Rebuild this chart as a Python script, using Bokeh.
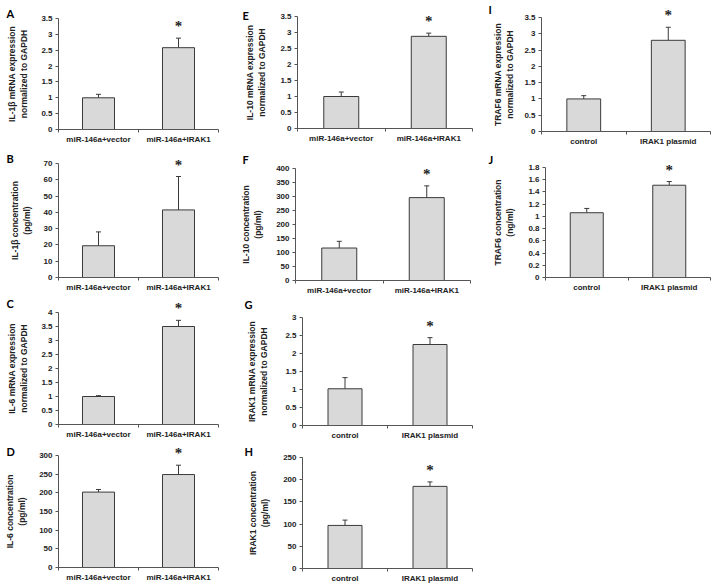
from bokeh.plotting import figure
from bokeh.layouts import row, column
from bokeh.models import (ColumnDataSource, FixedTicker, NumeralTickFormatter,
                          Whisker, Label, Range1d)
from bokeh.embed import file_html
from bokeh.resources import INLINE

# ---------------- data ----------------
mir_groups = ["miR-146a+vector", "miR-146a+IRAK1"]
plasmid_groups = ["control", "IRAK1 plasmid"]

il1b_mrna_mean = [1.0, 2.58]
il1b_mrna_err = [0.11, 0.30]
il1b_conc_mean = [19.5, 41.5]
il1b_conc_err = [8.5, 20.5]
il6_mrna_mean = [1.0, 3.5]
il6_mrna_err = [0.03, 0.22]
il6_conc_mean = [202, 249]
il6_conc_err = [7, 25]
il10_mrna_mean = [1.0, 2.88]
il10_mrna_err = [0.14, 0.10]
il10_conc_mean = [116, 296]
il10_conc_err = [24, 42]
irak1_mrna_mean = [1.02, 2.25]
irak1_mrna_err = [0.31, 0.19]
irak1_conc_mean = [97, 185]
irak1_conc_err = [12, 10]
traf6_mrna_mean = [1.0, 2.8]
traf6_mrna_err = [0.1, 0.4]
traf6_conc_mean = [1.06, 1.51]
traf6_conc_err = [0.07, 0.06]

ticks_35 = [0, 0.5, 1, 1.5, 2, 2.5, 3, 3.5]
ticks_70 = [0, 10, 20, 30, 40, 50, 60, 70]
ticks_4 = [0, 0.5, 1, 1.5, 2, 2.5, 3, 3.5, 4]
ticks_300 = [0, 50, 100, 150, 200, 250, 300]
ticks_400 = [0, 50, 100, 150, 200, 250, 300, 350, 400]
ticks_3 = [0, 0.5, 1, 1.5, 2, 2.5, 3]
ticks_250 = [0, 50, 100, 150, 200, 250]
ticks_18 = [0, 0.2, 0.4, 0.6, 0.8, 1, 1.2, 1.4, 1.6, 1.8]

FONT = "Liberation Sans"
TXT = "#222222"
AX = "#555555"
NCAT = 2


def panel(letter, ylabel, cats, means, errs, yticks, w, h, ax, xr, yt, yb,
          lx, ly, standoff):
    """w,h: figure size; ax/xr: pixel columns of x=0 / x=2;
    yt/yb: pixel rows of top tick / y=0; (lx, ly): letter top-left."""
    ymax = yticks[-1]
    ux = NCAT / (xr - ax)
    uy = ymax / (yb - yt)
    p = figure(width=w, height=h, output_backend="svg", toolbar_location=None,
               x_range=Range1d(-ax * ux, NCAT + (w - xr) * ux),
               y_range=Range1d(-(h - yb) * uy, ymax + yt * uy),
               min_border=0)
    p.min_border_left = p.min_border_right = 0
    p.min_border_top = p.min_border_bottom = 0
    p.outline_line_color = None
    p.grid.visible = False
    p.background_fill_color = "white"
    p.border_fill_color = "white"

    xs = [0.5, 1.5]
    src = ColumnDataSource(dict(x=xs, top=means,
                                up=[m + e for m, e in zip(means, errs)]))
    p.vbar(x="x", top="top", width=0.4, source=src, fill_color="#d9d9d9",
           line_color="#3a3a3a", line_width=1)
    wk = Whisker(base="x", lower="top", upper="up", source=src,
                 line_color="#3a3a3a", line_width=1, lower_head=None)
    wk.upper_head.size = 5
    wk.upper_head.line_color = "#3a3a3a"
    p.add_layout(wk)
    p.text(x=[xs[1]], y=[means[1] + errs[1]], text=["*"], text_align="center",
           text_baseline="middle", y_offset=-12, text_font_size="15px",
           text_font_style="bold", text_color=TXT, text_font=FONT)

    # x axis
    xa = p.xaxis[0]
    xa.fixed_location = 0
    xa.bounds = (0, NCAT)
    xa.ticker = FixedTicker(ticks=xs, minor_ticks=[0, 1, 2])
    xa.major_label_overrides = {xs[0]: cats[0], xs[1]: cats[1]}
    xa.major_tick_out = 0
    xa.major_tick_in = 0
    xa.minor_tick_out = 3
    xa.minor_tick_in = 0
    xa.major_label_standoff = 2
    # y axis
    ya = p.yaxis[0]
    ya.fixed_location = 0
    ya.bounds = (0, ymax)
    ya.ticker = FixedTicker(ticks=yticks, minor_ticks=[])
    ya.formatter = NumeralTickFormatter(format="0.[0]")
    ya.major_tick_out = 3
    ya.major_tick_in = 0
    ya.minor_tick_out = 0
    ya.minor_tick_in = 0
    ya.major_label_standoff = 3
    ya.axis_label = ylabel
    ya.axis_label_standoff = standoff
    ya.axis_label_text_font = FONT
    ya.axis_label_text_font_size = "8.5px"
    ya.axis_label_text_font_style = "bold"
    ya.axis_label_text_color = TXT
    for a in (xa, ya):
        a.axis_line_color = AX
        a.major_tick_line_color = AX
        a.minor_tick_line_color = AX
        a.major_label_text_font = FONT
        a.major_label_text_font_size = "8px"
        a.major_label_text_font_style = "bold"
        a.major_label_text_color = TXT

    p.add_layout(Label(x=lx, y=h - ly, x_units="screen", y_units="screen",
                       text=letter, text_font="Lato", text_font_size="11px",
                       text_font_style="bold", text_color="black",
                       text_baseline="top", text_align="left"))
    return p


A = panel("A", "IL-1β mRNA expression\nnormalized to GAPDH", mir_groups,
          il1b_mrna_mean, il1b_mrna_err, ticks_35, 233, 147, 58, 218, 18, 129,
          6, 6, 9)
B = panel("B", "IL-1β concentration\n(pg/ml)", mir_groups,
          il1b_conc_mean, il1b_conc_err, ticks_70, 233, 148, 58, 218, 16, 130,
          6, 4, 9)
C = panel("C", "IL-6 mRNA expression\nnormalized to GAPDH", mir_groups,
          il6_mrna_mean, il6_mrna_err, ticks_4, 233, 147, 58, 218, 17, 129,
          6, 1, 9)
D = panel("D", "IL-6 concentration\n(pg/ml)", mir_groups,
          il6_conc_mean, il6_conc_err, ticks_300, 233, 145, 58, 218, 13, 125,
          6, 2, 9)

E = panel("E", "IL-10 mRNA expression\nnormalized to GAPDH", mir_groups,
          il10_mrna_mean, il10_mrna_err, ticks_35, 240, 146, 64, 239, 16, 128,
          9, 8, 10)
F = panel("F", "IL-10 concentration\n(pg/ml)", mir_groups,
          il10_conc_mean, il10_conc_err, ticks_400, 240, 148, 62, 237, 22, 134,
          9, 6, 10)
G = panel("G", "IRAK1 mRNA expression\nnormalized to GAPDH", plasmid_groups,
          irak1_mrna_mean, irak1_mrna_err, ticks_3, 240, 147, 69, 239, 23, 131,
          11, 3, 13)
H = panel("H", "IRAK1 concentration\n(pg/ml)", plasmid_groups,
          irak1_conc_mean, irak1_conc_err, ticks_250, 240, 145, 69, 239, 16, 127,
          11, 3, 10)

I = panel("I", "TRAF6 mRNA expression\nnormalized to GAPDH", plasmid_groups,
          traf6_mrna_mean, traf6_mrna_err, ticks_35, 238, 146, 68, 237, 17, 131,
          15, 2, 6)
J = panel("J", "TRAF6 concentration\n(ng/ml)", plasmid_groups,
          traf6_conc_mean, traf6_conc_err, ticks_18, 238, 146, 72, 237, 21, 131,
          15, 6, 10)

layout = row(column(A, B, C, D, spacing=0), column(E, F, G, H, spacing=0),
             column(I, J, spacing=0), spacing=0)

open("out.html", "w").write(file_html(layout, INLINE))
